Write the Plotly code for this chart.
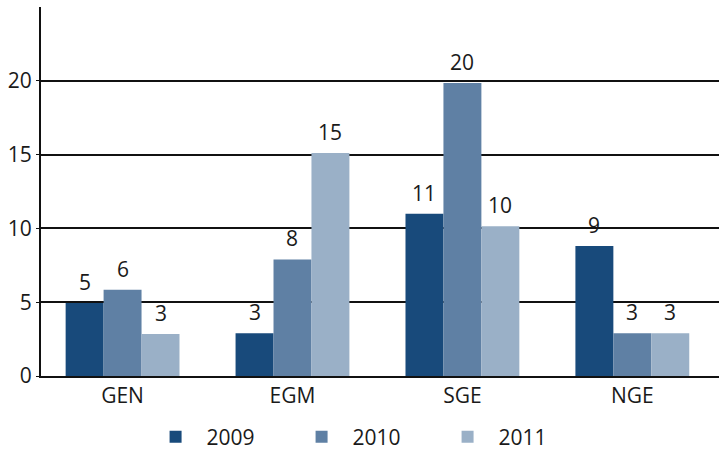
import plotly.graph_objects as go

categories = ["GEN", "EGM", "SGE", "NGE"]
series_names = ["2009", "2010", "2011"]
values_2009 = [4.95, 2.9, 11.0, 8.8]
values_2010 = [5.85, 7.9, 19.85, 2.9]
values_2011 = [2.85, 15.1, 10.15, 2.9]
labels_2009 = [5, 3, 11, 9]
labels_2010 = [6, 8, 20, 3]
labels_2011 = [3, 15, 10, 3]
colors = ["#184a7b", "#5f80a4", "#9ab0c7"]
y_ticks = [0, 5, 10, 15, 20]

all_values = [values_2009, values_2010, values_2011]
all_labels = [labels_2009, labels_2010, labels_2011]

W, H = 722, 451
ML, MR, MT, MB = 41, 3, 7, 75
BARGAP = 0.33
X_RANGE = [-0.48, 3.51]
FONT = "Open Sans"
FS = 21

fig = go.Figure()
for name, vals, col in zip(series_names, all_values, colors):
    fig.add_trace(go.Bar(x=categories, y=vals, name="\u00a0\u00a0" + name, marker_color=col,
                         marker_line_width=0))

plot_w = W - ML - MR
cat_w = plot_w / (X_RANGE[1] - X_RANGE[0])
bar_w = cat_w * (1 - BARGAP) / len(series_names)
annotations = []
for i, labs in enumerate(all_labels):
    for c, v, lab in zip(categories, all_values[i], labs):
        annotations.append(dict(
            x=c, y=v, text=str(lab), showarrow=False, xref="x", yref="y",
            xanchor="center", yanchor="bottom",
            xshift=(i - 1) * bar_w, yshift=5,
            font=dict(family=FONT, size=FS, color="#1a1a1a")))

fig.update_layout(
    width=W, height=H,
    margin=dict(l=ML, r=MR, t=MT, b=MB, autoexpand=False),
    paper_bgcolor="white", plot_bgcolor="white",
    barmode="group", bargap=BARGAP, bargroupgap=0,
    font=dict(family=FONT, size=FS, color="#1a1a1a"),
    annotations=annotations,
    showlegend=True,
    legend=dict(orientation="h", x=0.492, xanchor="center",
                yref="container", y=14 / H, yanchor="middle",
                font=dict(family=FONT, size=FS, color="#1a1a1a"),
                entrywidth=101, entrywidthmode="pixels", traceorder="normal"),
)
fig.update_xaxes(range=X_RANGE, showline=True, linecolor="#111111", linewidth=2, ticks="",
                 showgrid=False, tickfont=dict(size=FS), automargin=False)
fig.update_yaxes(range=[0, 25], tickvals=y_ticks, showgrid=True, gridcolor="#111111",
                 gridwidth=1.5, showline=True, linecolor="#111111", linewidth=2,
                 ticks="outside", ticklen=3, tickcolor="#111111", zeroline=False,
                 tickfont=dict(size=FS), automargin=False)

fig.write_html("out.html", config={"displayModeBar": False},
               post_script="document.body.style.margin='0';document.body.style.overflow='hidden';")
